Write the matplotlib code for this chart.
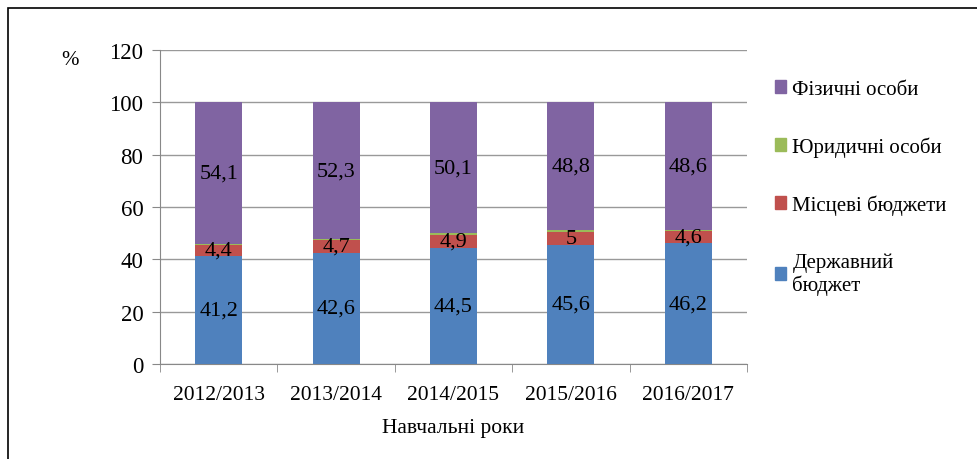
import matplotlib.pyplot as plt
import matplotlib.patches as mpatches
import numpy as np

plt.rcParams['font.family'] = ['Liberation Serif', 'DejaVu Serif']

years = ['2012/2013', '2013/2014', '2014/2015', '2015/2016', '2016/2017']
state_budget = [41.2, 42.6, 44.5, 45.6, 46.2]
local_budgets = [4.4, 4.7, 4.9, 5, 4.6]
legal_persons = [0.3, 0.4, 0.5, 0.6, 0.6]
individuals = [54.1, 52.3, 50.1, 48.8, 48.6]

series = [
    ('Державний\nбюджет', state_budget, '#4F81BD', True),
    ('Місцеві бюджети', local_budgets, '#C0504D', True),
    ('Юридичні особи', legal_persons, '#9BBB59', False),
    ('Фізичні особи', individuals, '#8064A2', True),
]

fig = plt.figure(figsize=(9.78, 4.6), dpi=100)
ax = fig.add_axes([0.1636, 0.2065, 0.6002, 0.6825])

x = np.arange(len(years))
bottom = np.zeros(len(years))
handles = []
for name, vals, color, show in series:
    ax.bar(x, vals, 0.4, bottom=bottom, color=color, zorder=3)
    if show:
        for xi, b, v in zip(x, bottom, vals):
            ax.text(xi, b + v / 2, str(v).replace('.', ','), ha='center', va='center',
                    fontsize=16, zorder=4)
    handles.append(mpatches.Patch(color=color, label=name))
    bottom += np.array(vals)

ax.set_xlim(-0.5, len(years) - 0.5)
ax.set_ylim(0, 120)
ax.set_yticks(range(0, 121, 20))
ax.set_xticks(x)
ax.set_xticklabels(years, fontsize=15.5)
ax.set_xticks(np.arange(-0.5, len(years)), minor=True)
ax.tick_params(axis='x', which='major', length=0, pad=15)
ax.tick_params(axis='x', which='minor', length=6, color='#888888', direction='out')
ax.tick_params(axis='y', length=6, color='#888888', labelsize=16.5, pad=6)
ax.grid(axis='y', color='#999999', linewidth=1, zorder=0)
for s in ['top', 'right']:
    ax.spines[s].set_visible(False)
for s in ['left', 'bottom']:
    ax.spines[s].set_color('#888888')
ax.set_xlabel('Навчальні роки', fontsize=15.5, labelpad=10)
fig.text(0.072, 0.868, '%', fontsize=15, ha='center', va='center')

fig.legend(handles=handles[::-1], loc='upper left', bbox_to_anchor=(0.773, 0.865),
           frameon=False, fontsize=15, handlelength=0.55, handleheight=0.55,
           handletextpad=0.3, labelspacing=1.8)

# outer frame
fig.add_artist(mpatches.Rectangle((8 / 978, -0.1), 1.1, 1 - 9 / 460 + 0.1,
                                  transform=fig.transFigure, fill=False,
                                  edgecolor='black', linewidth=1.2))

fig.savefig('out.png', dpi=100)
